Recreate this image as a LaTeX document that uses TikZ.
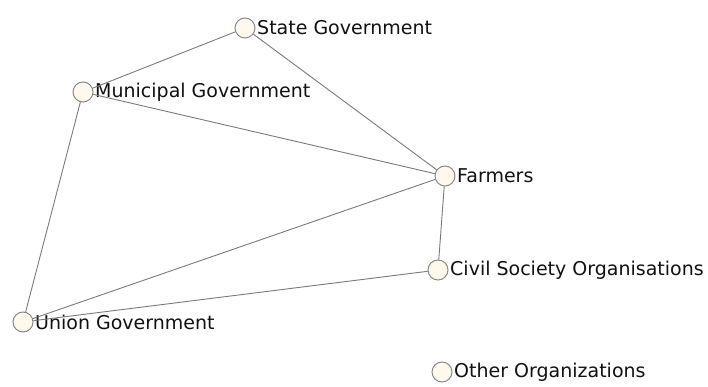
\documentclass[tikz,border=0pt]{standalone}
\usepackage{fontspec}
\setmainfont{DejaVu Sans}
\usepackage{tikz}
\usetikzlibrary{positioning}
\definecolor{actorfill}{HTML}{FFF8EC}
\definecolor{actorline}{HTML}{8A8A8A}
\definecolor{tiegray}{HTML}{7A7A7A}
\definecolor{labeltext}{HTML}{111111}

\begin{document}
\begin{tikzpicture}
	[x=1pt, y=-1pt,
	 actor/.style={circle, draw=actorline, line width=1pt, fill=actorfill, minimum size=20pt, inner sep=0pt,
	   label={[label distance=0pt, inner sep=1.5pt, text=labeltext, font=\fontsize{19}{21}\selectfont]right:#1}},
	 tie/.style={draw=tiegray, line width=0.9pt}]
   \useasboundingbox (0,0) rectangle (708,387);
   \node[actor=State Government] (state) at (245,28) {};
   \node[actor=Municipal Government] (muni) at (83,92) {};
   \node[actor=Farmers] (farm) at (445,176) {};
   \node[actor=Civil Society Organisations] (cso) at (438,270) {};
   \node[actor=Union Government] (union) at (23,322) {};
   \node[actor=Other Organizations] (other) at (442,372) {};
    \path[tie]
    (state) edge (muni)
            edge (farm)
    (muni)  edge (farm)
            edge (union)
    (union) edge (farm)
            edge (cso)
    (cso)   edge (farm);
\end{tikzpicture}
\end{document}
